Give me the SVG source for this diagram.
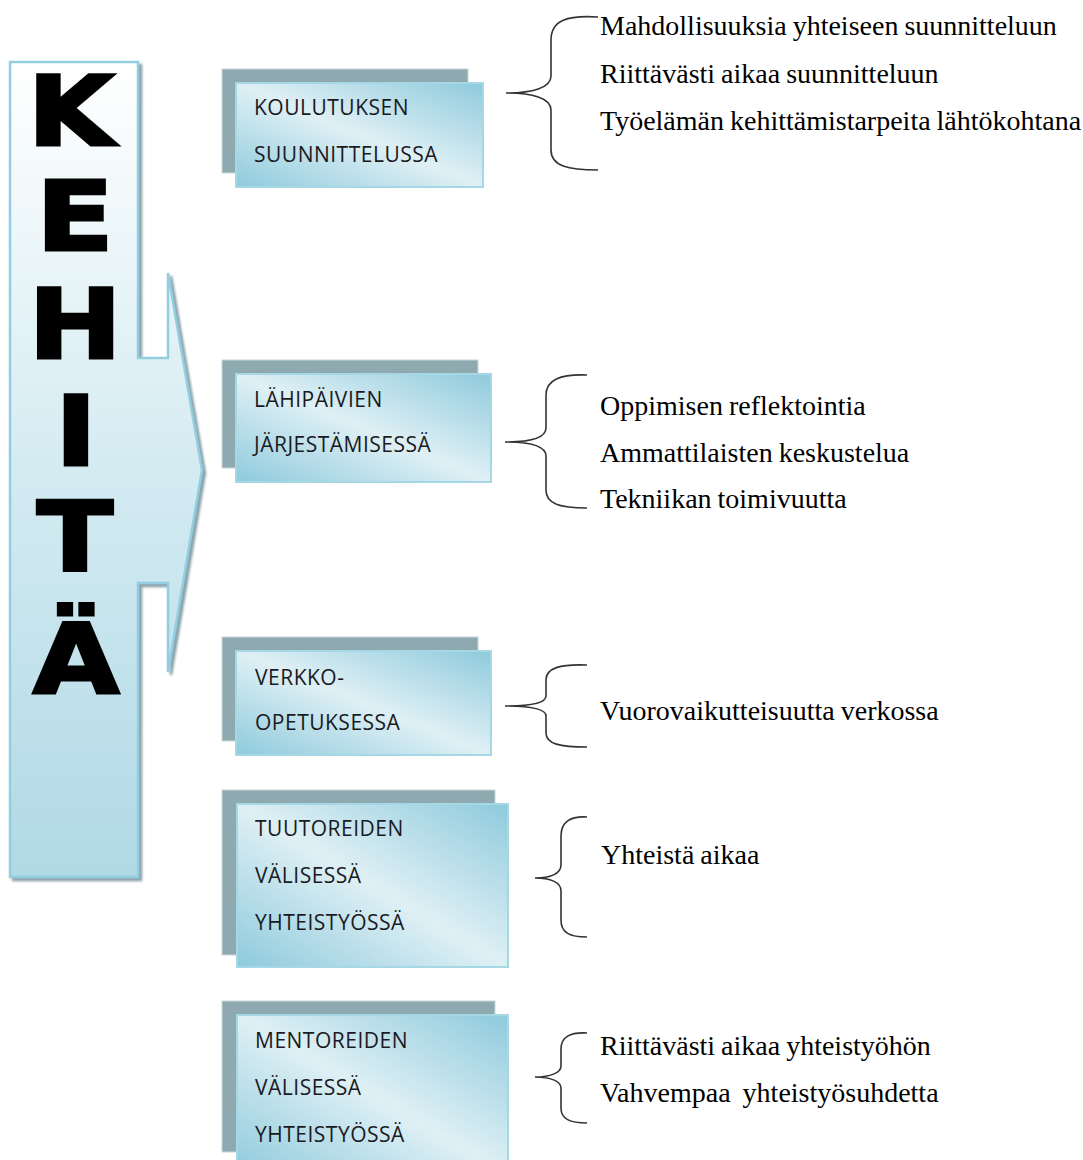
<svg xmlns="http://www.w3.org/2000/svg" width="1083" height="1160" viewBox="0 0 1083 1160">
<defs>
  <linearGradient id="gLeft" x1="0" y1="0" x2="0" y2="1">
    <stop offset="0" stop-color="#ffffff"/>
    <stop offset="0.5" stop-color="#d4ebf2"/>
    <stop offset="1" stop-color="#b0d9e6"/>
  </linearGradient>
  <linearGradient id="gBox" x1="1" y1="0" x2="0" y2="1">
    <stop offset="0" stop-color="#8ecadc"/>
    <stop offset="0.5" stop-color="#dff0f5"/>
    <stop offset="1" stop-color="#8ecadc"/>
  </linearGradient>
  <filter id="shadow" x="-10%" y="-10%" width="130%" height="130%">
    <feDropShadow dx="3" dy="3" stdDeviation="1.2" flood-color="#7f9aa3" flood-opacity="0.9"/>
  </filter>
</defs>
<style>
  .big { font-family: "DejaVu Sans", "Liberation Sans", sans-serif; font-weight: bold; font-size: 96px; fill: #000; stroke: #000; stroke-width: 3; stroke-linejoin: miter; text-anchor: middle; }
  .back { fill: #8fa9b0; stroke: #c9d6da; stroke-width: 1; }
  .front { fill: url(#gBox); stroke: #a6d7e5; stroke-width: 2; }
  .btxt { font-family: "Open Sans", "Liberation Sans", sans-serif; font-size: 21px; letter-spacing: 0.5px; fill: #1a1a22; }
  .rtxt { font-family: "Liberation Serif", "Times New Roman", serif; font-size: 28px; word-spacing: -1px; fill: #000; }
  .brace { fill: none; stroke: #333; stroke-width: 1.6; }
</style>

<g id="kehita">
  <path d="M10,62 L138,62 L138,358 L168,358 L168,273 L202,470 L168,672 L168,583 L138,583 L138,877 L10,877 Z" fill="url(#gLeft)" stroke="#92cee0" stroke-width="2.5" filter="url(#shadow)"/>
  <text class="big" transform="translate(71,145) scale(1.16,1)">K</text>
  <text class="big" transform="translate(75,250) scale(1.18,1)">E</text>
  <text class="big" transform="translate(75,358) scale(1.16,1)">H</text>
  <text class="big" transform="translate(76,465) scale(1.16,1)">I</text>
  <text class="big" transform="translate(75,571) scale(1.16,1)">T</text>
  <text class="big" transform="translate(76,693) scale(1.16,1)">Ä</text>
</g>

<g id="box1">
  <rect class="back" x="222" y="69" width="246" height="104"/>
  <rect class="front" x="236" y="83" width="247" height="104"/>
  <text class="btxt" x="254" y="115">KOULUTUKSEN</text>
  <text class="btxt" x="254" y="162">SUUNNITTELUSSA</text>
</g>
<g id="box2">
  <rect class="back" x="222" y="360" width="256" height="108"/>
  <rect class="front" x="236" y="374" width="255" height="108"/>
  <text class="btxt" x="254" y="407">LÄHIPÄIVIEN</text>
  <text class="btxt" x="254" y="452">JÄRJESTÄMISESSÄ</text>
</g>
<g id="box3">
  <rect class="back" x="222" y="637" width="256" height="104"/>
  <rect class="front" x="236" y="651" width="255" height="104"/>
  <text class="btxt" x="255" y="685">VERKKO-</text>
  <text class="btxt" x="255" y="730">OPETUKSESSA</text>
</g>
<g id="box4">
  <rect class="back" x="222" y="790" width="273" height="165"/>
  <rect class="front" x="237" y="804" width="271" height="163"/>
  <text class="btxt" x="255" y="836">TUUTOREIDEN</text>
  <text class="btxt" x="255" y="883">VÄLISESSÄ</text>
  <text class="btxt" x="255" y="930">YHTEISTYÖSSÄ</text>
</g>
<g id="box5">
  <rect class="back" x="222" y="1001" width="273" height="151"/>
  <rect class="front" x="237" y="1015" width="271" height="160"/>
  <text class="btxt" x="255" y="1048">MENTOREIDEN</text>
  <text class="btxt" x="255" y="1095">VÄLISESSÄ</text>
  <text class="btxt" x="255" y="1142">YHTEISTYÖSSÄ</text>
</g>

<g id="connectors">
  <path class="brace" d="M598,17 C568,15 551,20 551,40 L551,76 C551,88 532,93 506,93 C532,93 551,98 551,110 L551,150 C551,166 568,170 598,170"/>
  <path class="brace" d="M587,375 C560,374 546,380 546,395 L546,428 C546,438 530,442 505,442 C530,442 546,446 546,456 L546,490 C546,504 560,508 587,508"/>
  <path class="brace" d="M587,665 C560,664 546,668 546,680 L546,696 C546,703 530,706 505,706 C530,706 546,709 546,716 L546,733 C546,744 560,747 587,747"/>
  <path class="brace" d="M587,817 C570,816 561,822 561,836 L561,865 C561,874 550,878 535,878 C550,878 561,882 561,891 L561,920 C561,933 570,937 587,937"/>
  <path class="brace" d="M587,1033 C570,1032 561,1037 561,1049 L561,1066 C561,1073 550,1077 535,1077 C550,1077 561,1081 561,1088 L561,1108 C561,1119 570,1123 587,1123"/>
</g>

<g id="notes">
  <text class="rtxt" x="600" y="35">Mahdollisuuksia yhteiseen suunnitteluun</text>
  <text class="rtxt" x="600" y="83">Riittävästi aikaa suunnitteluun</text>
  <text class="rtxt" x="600" y="130">Työelämän kehittämistarpeita lähtökohtana</text>
  <text class="rtxt" x="600" y="415">Oppimisen reflektointia</text>
  <text class="rtxt" x="600" y="462">Ammattilaisten keskustelua</text>
  <text class="rtxt" x="600" y="508">Tekniikan toimivuutta</text>
  <text class="rtxt" x="600" y="720">Vuorovaikutteisuutta verkossa</text>
  <text class="rtxt" x="601" y="864">Yhteistä aikaa</text>
  <text class="rtxt" x="600" y="1055">Riittävästi aikaa yhteistyöhön</text>
  <text class="rtxt" x="600" y="1102" xml:space="preserve">Vahvempaa  yhteistyösuhdetta</text>
</g>
</svg>
